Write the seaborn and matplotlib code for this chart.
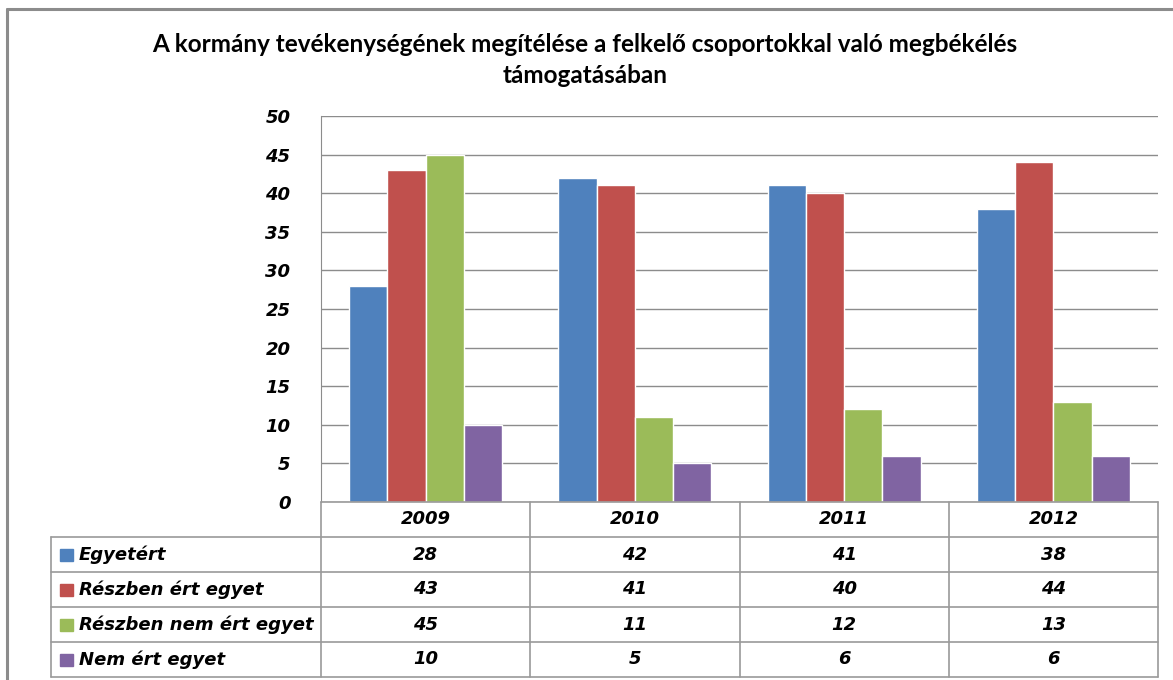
import pandas as pd
import matplotlib.pyplot as plt
import seaborn as sns
from matplotlib.lines import Line2D
from matplotlib.patches import Rectangle

years = ['2009', '2010', '2011', '2012']
groups = ['Egyetért', 'Részben ért egyet', 'Részben nem ért egyet', 'Nem ért egyet']
egyetert = [28, 42, 41, 38]
reszben_ert = [43, 41, 40, 44]
reszben_nem_ert = [45, 11, 12, 13]
nem_ert = [10, 5, 6, 6]
colors = ['#4F81BD', '#C0504D', '#9BBB59', '#8064A2']
title = 'A kormány tevékenységének megítélése a felkelő csoportokkal való megbékélés\ntámogatásában'

series = [egyetert, reszben_ert, reszben_nem_ert, nem_ert]
rows = []
for g, vals in zip(groups, series):
    for y, v in zip(years, vals):
        rows.append({'year': y, 'group': g, 'value': v})
df = pd.DataFrame(rows)

sns.set_style('white')
plt.rcParams['font.family'] = ['DejaVu Sans']
plt.rcParams['text.color'] = 'black'
plt.rcParams['ytick.color'] = 'black'

W, H = 1173, 680
fig = plt.figure(figsize=(W / 100, H / 100), dpi=100)

def fx(px):
    return px / W

def fy(py):
    return 1 - py / H

# frame of the chart object
grey = '#8C8C8C'
fig.add_artist(Line2D([fx(7), fx(1173)], [fy(9), fy(9)], color=grey, lw=2.2))
fig.add_artist(Line2D([fx(7), fx(7)], [fy(9), fy(680)], color=grey, lw=2.2))

fig.text(fx(585), fy(60), title, ha='center', va='center', fontsize=17.5,
         fontweight='bold', family='Lato', linespacing=1.45, color='black')

# bar area
left, right, top, bottom = 321, 1158, 116, 502
ax = fig.add_axes([fx(left), fy(bottom), fx(right - left), (bottom - top) / H])
sns.barplot(data=df, x='year', y='value', hue='group', palette=colors,
            width=0.73, saturation=1, ax=ax, legend=False, errorbar=None)
ax.set_ylim(0, 50)
ax.set_xlim(-0.5, 3.5)
ax.set_yticks(range(0, 51, 5))
ax.yaxis.grid(True, color='#8C8C8C', lw=1)
ax.set_axisbelow(True)
ax.set_xticks([])
ax.set_xlabel('')
ax.set_ylabel('')
for s in ['top', 'right', 'bottom']:
    ax.spines[s].set_visible(False)
ax.spines['left'].set_color('#8C8C8C')
ax.tick_params(axis='y', length=0, pad=22, colors='black')
for lab in ax.get_yticklabels():
    lab.set_fontsize(13)
    lab.set_fontweight('bold')
    lab.set_fontstyle('italic')

# data table
tl, tr = 51, 1158
row_y = [502, 537, 572, 607, 642, 677]
tax = fig.add_axes([fx(tl), fy(row_y[-1]), fx(tr - tl), (row_y[-1] - row_y[0]) / H])
tax.set_xlim(tl, tr)
tax.set_ylim(row_y[-1], row_y[0])
tax.axis('off')
lc = '#9A9A9A'
col_w = (right - left) / len(years)
col_x = [left + i * col_w for i in range(len(years) + 1)]
# horizontal lines
tax.plot([left, tr], [row_y[0], row_y[0]], color=lc, lw=1.2, clip_on=False)
for yy in row_y[1:]:
    tax.plot([tl, tr], [yy, yy], color=lc, lw=1.2, clip_on=False)
# vertical lines
tax.plot([tl, tl], [row_y[1], row_y[-1]], color=lc, lw=1.2, clip_on=False)
for xx in col_x:
    tax.plot([xx, xx], [row_y[0], row_y[-1]], color=lc, lw=1.2, clip_on=False)

tfont = dict(fontsize=13, fontweight='bold', fontstyle='italic', color='black')
for i, y in enumerate(years):
    tax.text(col_x[i] + col_w / 2, (row_y[0] + row_y[1]) / 2, y,
             ha='center', va='center', **tfont)
for r, (g, vals, c) in enumerate(zip(groups, series, colors)):
    yc = (row_y[r + 1] + row_y[r + 2]) / 2
    tax.add_patch(Rectangle((60, yc - 6), 13, 12, color=c, clip_on=False))
    tax.text(79, yc, g, ha='left', va='center', **tfont)
    for i, v in enumerate(vals):
        tax.text(col_x[i] + col_w / 2, yc, str(v), ha='center', va='center', **tfont)

fig.savefig('out.png', dpi=100)
